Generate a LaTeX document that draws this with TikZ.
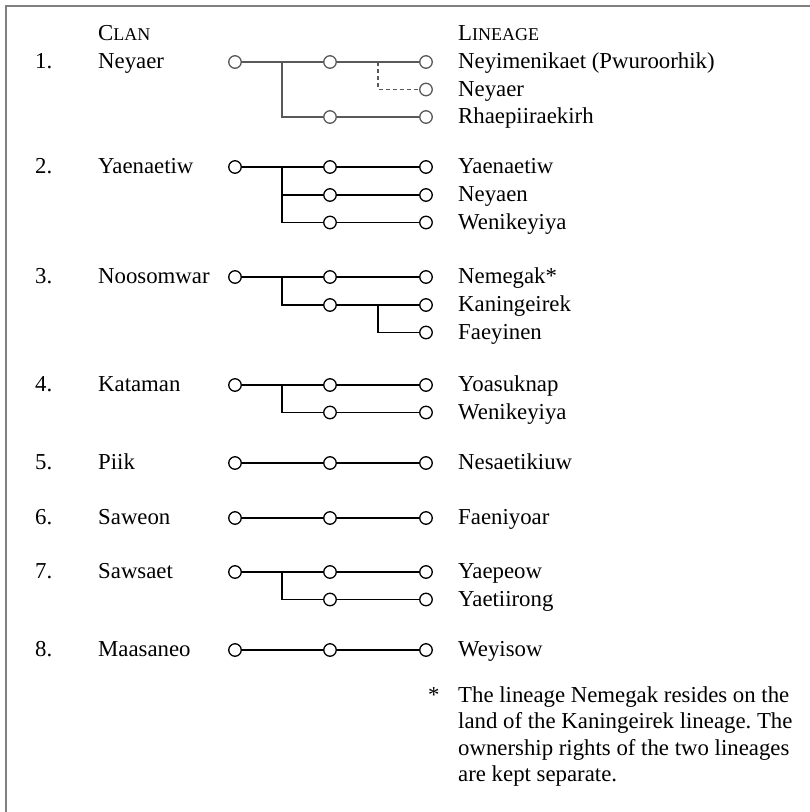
\documentclass[tikz,border=0pt]{standalone}
\usepackage{fontspec}
\setmainfont{Liberation Serif}
\frenchspacing
\begin{document}
\begin{tikzpicture}[x=1pt,y=-1pt,
  dot/.style={circle,draw,fill=white,minimum size=12.5pt,inner sep=0pt,line width=1.3pt},
  conn/.style={line width=1.5pt},
  graydot/.style={dot,draw=black!65},
  grayconn/.style={conn,draw=black!65},
  dashconn/.style={conn,draw=black!65,dash pattern=on 4pt off 3pt},
  lbl/.style={anchor=base west,inner sep=0pt,font=\fontsize{22.8}{26.6}\selectfont\frenchspacing}]
\useasboundingbox (0,0) rectangle (810,812);
\begin{scope}
\clip (0,0) rectangle (810,812);
\draw[line width=2pt,draw=black!50] (6,6) rectangle (830,830);
\end{scope}
% headers
\node[lbl] (hclan) at (98,40.7) {C{\fontsize{18}{20}\selectfont LAN}};
\node[lbl] (hlin) at (458,40.7) {L{\fontsize{18}{20}\selectfont INEAGE}};
% numbers and clans
\node[lbl] (n1) at (35,68.5) {1.};  \node[lbl] (k1) at (98,68.5) {Neyaer};
\node[lbl] (n2) at (35,173.5) {2.}; \node[lbl] (k2) at (98,173.5) {Yaenaetiw};
\node[lbl] (n3) at (35,283.5) {3.}; \node[lbl] (k3) at (98,283.5) {Noosomwar};
\node[lbl] (n4) at (35,391.5) {4.}; \node[lbl] (k4) at (98,391.5) {Kataman};
\node[lbl] (n5) at (35,469.5) {5.}; \node[lbl] (k5) at (98,469.5) {Piik};
\node[lbl] (n6) at (35,524.5) {6.}; \node[lbl] (k6) at (98,524.5) {Saweon};
\node[lbl] (n7) at (35,578.5) {7.}; \node[lbl] (k7) at (98,578.5) {Sawsaet};
\node[lbl] (n8) at (35,656.5) {8.}; \node[lbl] (k8) at (98,656.5) {Maasaneo};
% lineages
\node[lbl] (l1a) at (458,68.5) {Neyimenikaet (Pwuroorhik)};
\node[lbl] (l1b) at (458,96) {Neyaer};
\node[lbl] (l1c) at (458,123.5) {Rhaepiiraekirh};
\node[lbl] (l2a) at (458,173.5) {Yaenaetiw};
\node[lbl] (l2b) at (458,201.5) {Neyaen};
\node[lbl] (l2c) at (458,229) {Wenikeyiya};
\node[lbl] (l3a) at (458,283.5) {Nemegak*};
\node[lbl] (l3b) at (458,311.5) {Kaningeirek};
\node[lbl] (l3c) at (458,339) {Faeyinen};
\node[lbl] (l4a) at (458,391.5) {Yoasuknap};
\node[lbl] (l4b) at (458,419) {Wenikeyiya};
\node[lbl] (l5a) at (458,469.5) {Nesaetikiuw};
\node[lbl] (l6a) at (458,524.5) {Faeniyoar};
\node[lbl] (l7a) at (458,578.5) {Yaepeow};
\node[lbl] (l7b) at (458,606) {Yaetiirong};
\node[lbl] (l8a) at (458,656.5) {Weyisow};
% footnote
\node[lbl] (star) at (428,702) {*};
\node[lbl] (fn1) at (458,702) {The lineage Nemegak resides on the};
\node[lbl] (fn2) at (458,728.5) {land of the Kaningeirek lineage. The};
\node[lbl] (fn3) at (458,755) {ownership rights of the two lineages};
\node[lbl] (fn4) at (458,781.5) {are kept separate.};
% row 1
\node[graydot] (c1a) at (235,62) {};
\node[graydot] (c1b) at (330,62) {};
\node[graydot] (c1c) at (426,62) {};
\node[graydot] (c1d) at (426,89.5) {};
\node[graydot] (c1e) at (330,117) {};
\node[graydot] (c1f) at (426,117) {};
\coordinate (b1) at (282,62);
\coordinate (b1d) at (378,62);
\draw[grayconn] (c1a) -- (c1b);
\draw[grayconn] (c1b) -- (c1c);
\draw[grayconn] (b1) |- (c1e);
\draw[grayconn] (c1e) -- (c1f);
\draw[dashconn] (b1d) |- (c1d);
% row 2
\node[dot] (c2a) at (235,167) {};
\node[dot] (c2b) at (330,167) {};
\node[dot] (c2c) at (426,167) {};
\node[dot] (c2d) at (330,195) {};
\node[dot] (c2e) at (426,195) {};
\node[dot] (c2f) at (330,222.5) {};
\node[dot] (c2g) at (426,222.5) {};
\coordinate (b2) at (282,167);
\draw[conn] (c2a) -- (c2b);
\draw[conn] (c2b) -- (c2c);
\draw[conn] (b2) |- (c2d);
\draw[conn] (b2) |- (c2f);
\draw[conn] (c2d) -- (c2e);
\draw[conn] (c2f) -- (c2g);
% row 3
\node[dot] (c3a) at (235,277) {};
\node[dot] (c3b) at (330,277) {};
\node[dot] (c3c) at (426,277) {};
\node[dot] (c3d) at (330,305) {};
\node[dot] (c3e) at (426,305) {};
\node[dot] (c3f) at (426,332.5) {};
\coordinate (b3) at (282,277);
\coordinate (b3d) at (378,305);
\draw[conn] (c3a) -- (c3b);
\draw[conn] (c3b) -- (c3c);
\draw[conn] (b3) |- (c3d);
\draw[conn] (c3d) -- (c3e);
\draw[conn] (b3d) |- (c3f);
% row 4
\node[dot] (c4a) at (235,385) {};
\node[dot] (c4b) at (330,385) {};
\node[dot] (c4c) at (426,385) {};
\node[dot] (c4d) at (330,412.5) {};
\node[dot] (c4e) at (426,412.5) {};
\coordinate (b4) at (282,385);
\draw[conn] (c4a) -- (c4b);
\draw[conn] (c4b) -- (c4c);
\draw[conn] (b4) |- (c4d);
\draw[conn] (c4d) -- (c4e);
% row 5
\node[dot] (c5a) at (235,463) {};
\node[dot] (c5b) at (330,463) {};
\node[dot] (c5c) at (426,463) {};
\draw[conn] (c5a) -- (c5b);
\draw[conn] (c5b) -- (c5c);
% row 6
\node[dot] (c6a) at (235,518) {};
\node[dot] (c6b) at (330,518) {};
\node[dot] (c6c) at (426,518) {};
\draw[conn] (c6a) -- (c6b);
\draw[conn] (c6b) -- (c6c);
% row 7
\node[dot] (c7a) at (235,572) {};
\node[dot] (c7b) at (330,572) {};
\node[dot] (c7c) at (426,572) {};
\node[dot] (c7d) at (330,599.5) {};
\node[dot] (c7e) at (426,599.5) {};
\coordinate (b7) at (282,572);
\draw[conn] (c7a) -- (c7b);
\draw[conn] (c7b) -- (c7c);
\draw[conn] (b7) |- (c7d);
\draw[conn] (c7d) -- (c7e);
% row 8
\node[dot] (c8a) at (235,650) {};
\node[dot] (c8b) at (330,650) {};
\node[dot] (c8c) at (426,650) {};
\draw[conn] (c8a) -- (c8b);
\draw[conn] (c8b) -- (c8c);
\end{tikzpicture}
\end{document}
